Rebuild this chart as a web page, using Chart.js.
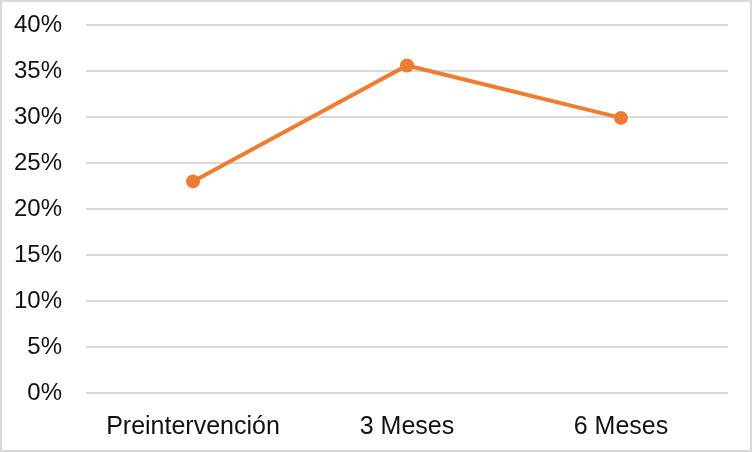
<!DOCTYPE html>
<html>
<head>
<meta charset="utf-8">
<script src="https://cdn.jsdelivr.net/npm/chart.js@4/dist/chart.umd.min.js"></script>
<style>
    body { margin: 0; background: #fff; }
    #wrap { width: 748px; height: 448px; border: 2px solid #d9d9d9; }
</style>
</head>
<body>
<div id="wrap"><canvas id="chart" width="748" height="448"></canvas></div>
<script>
const categories = ["Preintervención", "3 Meses", "6 Meses"];
const values = [23.0, 35.6, 29.9];
const lineColor = "#ed7d31";

let ctx = document.getElementById("chart").getContext("2d");

let lineChart = new Chart(ctx, {
    type: 'line',
    data: {
        labels: categories,
        datasets: [{
            data: values,
            borderColor: lineColor,
            backgroundColor: lineColor,
            borderWidth: 4,
            pointRadius: 5,
            pointHoverRadius: 5,
            tension: 0
        }]
    },
    options: {
        responsive: false,
        animation: false,
        layout: { padding: { top: 23, right: 22, left: 0, bottom: 0 } },
        plugins: { legend: { display: false }, tooltip: { enabled: false } },
        scales: {
            x: {
                offset: true,
                grid: { display: false, drawTicks: false },
                border: { display: false },
                ticks: {
                    color: "#111",
                    padding: 19,
                    maxRotation: 0,
                    font: { family: "Liberation Sans", size: 25 }
                },
                afterFit: scale => { scale.height = 57; }
            },
            y: {
                min: 0,
                max: 40,
                grid: { color: "#d9d9d9", lineWidth: 2, drawTicks: true, tickLength: 24, tickColor: "rgba(0,0,0,0)" },
                border: { display: false },
                ticks: {
                    stepSize: 5,
                    color: "#111",
                    padding: 0,
                    font: { family: "Liberation Sans", size: 24 },
                    callback: v => v + "%"
                },
                afterFit: scale => { scale.width = 84; }
            }
        }
    }
});
</script>
</body>
</html>
